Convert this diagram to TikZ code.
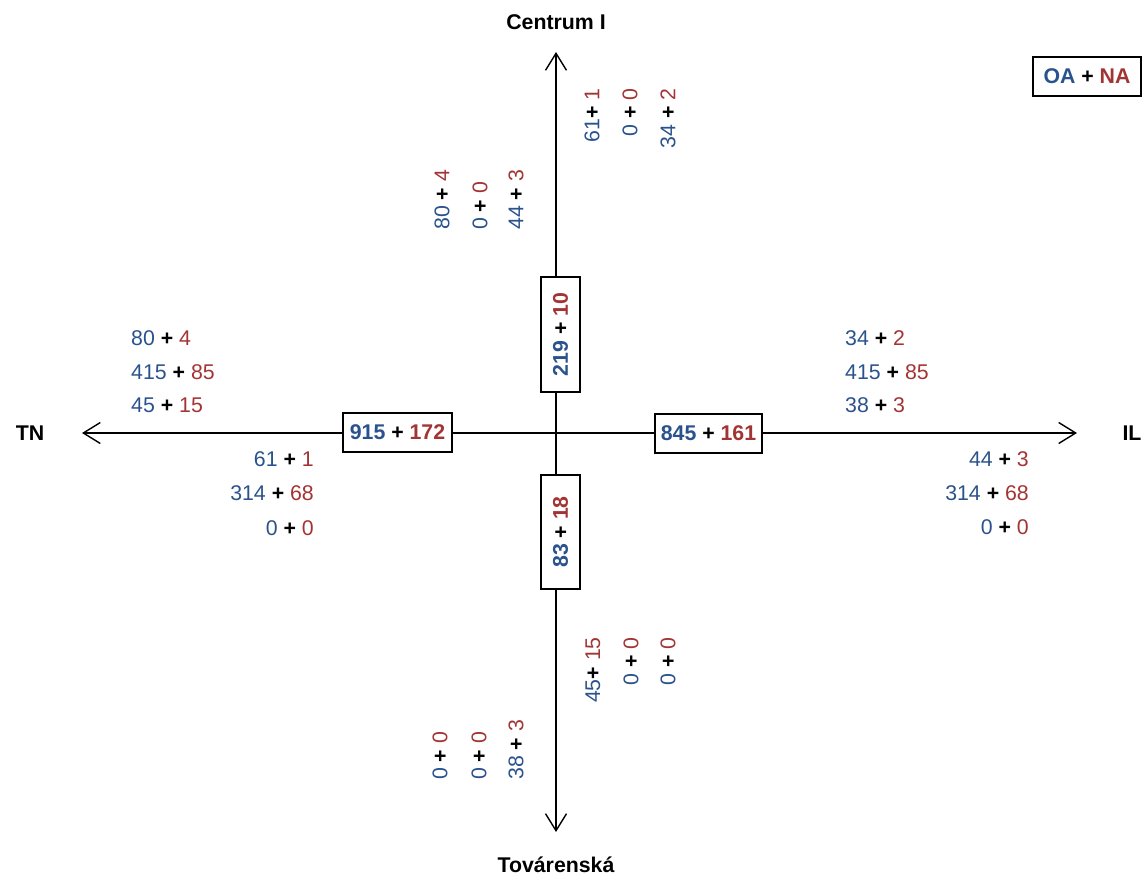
\documentclass[tikz,border=0pt]{standalone}
\usepackage{fontspec}
\setmainfont{Liberation Sans}
\usetikzlibrary{arrows.meta}
\definecolor{oablue}{RGB}{42,82,140}
\definecolor{nared}{RGB}{163,52,52}
\newcommand\pairtxt[2]{\textcolor{oablue}{#1} \textbf{+} \textcolor{nared}{#2}}
\newcommand\pairbf[2]{\textbf{\textcolor{oablue}{#1} + \textcolor{nared}{#2}}}
\begin{document}
\begin{tikzpicture}[x=1pt,y=-1pt,
  every node/.style={font=\fontsize{21.3}{25}\selectfont, inner sep=0pt},
  axisline/.style={line width=1.4pt, -{Straight Barb[length=17pt,width=21pt,line width=1.4pt]}},
  totbox/.style={draw, line width=1.4pt, fill=white},
  lbl/.style={font=\fontsize{21.3}{25}\selectfont\bfseries},
  up/.style={rotate=90}]
\useasboundingbox (0,0) rectangle (1145,877);
% axes
\coordinate (c) at (556,433);
\coordinate (tnend) at (82,433);
\coordinate (ilend) at (1077,433);
\coordinate (ciend) at (556,52);
\coordinate (toend) at (556,832);
\draw[axisline] (c) -- (tnend);
\draw[axisline] (c) -- (ilend);
\draw[axisline] (c) -- (ciend);
\draw[axisline] (c) -- (toend);
% end labels
\node[lbl] (ci) at (556,22) {Centrum I};
\node[lbl] (to) at (556,865) {Továrenská};
\node[lbl] (tn) at (30,433) {TN};
\node[lbl] (il) at (1132,433) {IL};
% legend
\node[totbox, minimum width=108pt, minimum height=39pt] (leg) at (1087,76.5) {\pairbf{OA}{NA}};
% total boxes
\node[totbox, minimum width=109pt, minimum height=39pt] (btn) at (397.5,432.5) {\pairbf{915}{172}};
\node[totbox, minimum width=107pt, minimum height=39pt] (bil) at (708.5,433.5) {\pairbf{845}{161}};
\node[totbox, up, minimum width=115pt, minimum height=39pt] (bci) at (560.5,334.5) {\pairbf{219}{10}};
\node[totbox, up, minimum width=114pt, minimum height=39pt] (bto) at (560.5,532) {\pairbf{83}{18}};
% left side texts
\node[anchor=west] (l1) at (131,338) {\pairtxt{80}{4}};
\node[anchor=west] (l2) at (131,372) {\pairtxt{415}{85}};
\node[anchor=west] (l3) at (131,405) {\pairtxt{45}{15}};
\node[anchor=east] (l4) at (314,459) {\pairtxt{61}{1}};
\node[anchor=east] (l5) at (314,493) {\pairtxt{314}{68}};
\node[anchor=east] (l6) at (314,528) {\pairtxt{0}{0}};
% right side texts
\node[anchor=west] (r1) at (845,338) {\pairtxt{34}{2}};
\node[anchor=west] (r2) at (845,372) {\pairtxt{415}{85}};
\node[anchor=west] (r3) at (845,405) {\pairtxt{38}{3}};
\node[anchor=east] (r4) at (1029,459) {\pairtxt{44}{3}};
\node[anchor=east] (r5) at (1029,493) {\pairtxt{314}{68}};
\node[anchor=east] (r6) at (1029,527) {\pairtxt{0}{0}};
% upper texts
\node[up, anchor=west] (u1) at (442,230) {\pairtxt{80}{4}};
\node[up, anchor=west] (u2) at (480,230) {\pairtxt{0}{0}};
\node[up, anchor=west] (u3) at (516,230) {\pairtxt{44}{3}};
\node[up, anchor=east] (u4) at (592,88) {\textcolor{oablue}{61}\textbf{+} \textcolor{nared}{1}};
\node[up, anchor=east] (u5) at (630,88) {\pairtxt{0}{0}};
\node[up, anchor=east] (u6) at (668,88) {\pairtxt{34}{2}};
% lower texts
\node[up, anchor=east] (d1) at (593,637) {\textcolor{oablue}{45}\textbf{+} \textcolor{nared}{15}};
\node[up, anchor=east] (d2) at (631,637) {\pairtxt{0}{0}};
\node[up, anchor=east] (d3) at (668,637) {\pairtxt{0}{0}};
\node[up, anchor=west] (d4) at (440,780) {\pairtxt{0}{0}};
\node[up, anchor=west] (d5) at (479,780) {\pairtxt{0}{0}};
\node[up, anchor=west] (d6) at (516,780) {\pairtxt{38}{3}};
\end{tikzpicture}
\end{document}
